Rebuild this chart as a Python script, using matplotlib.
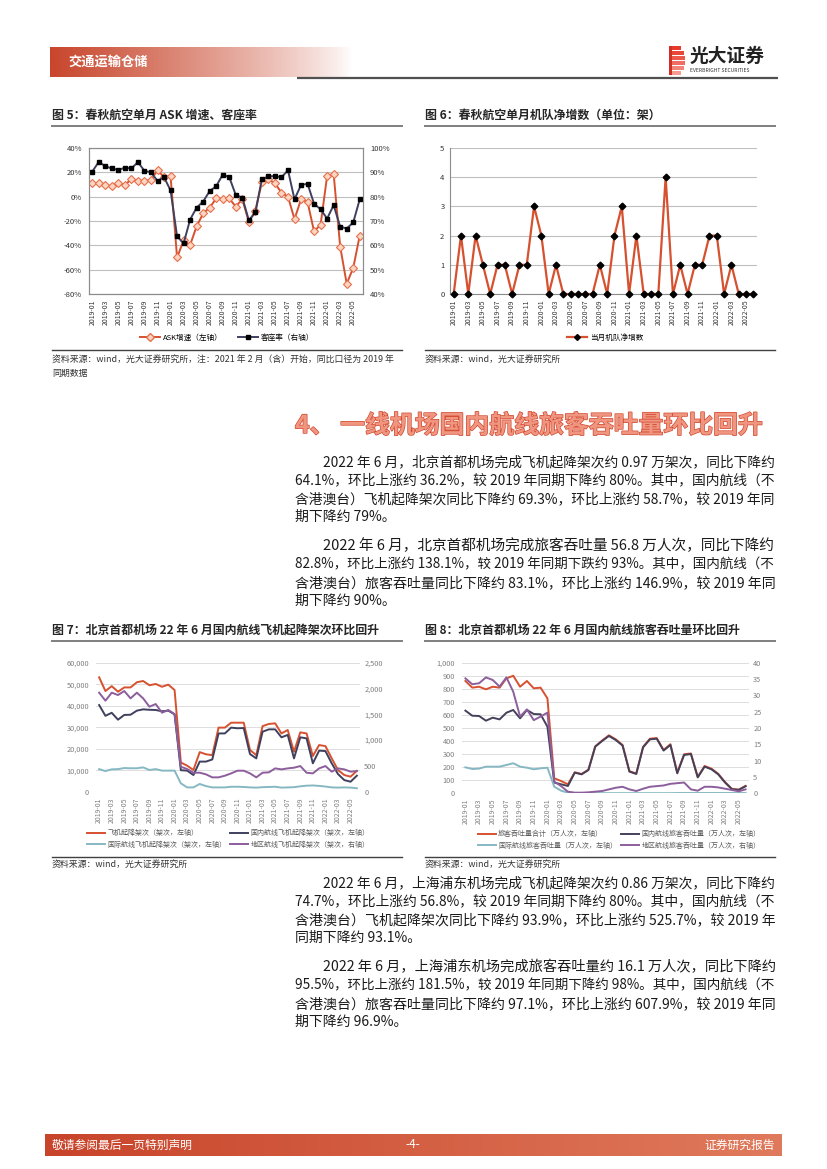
import matplotlib
matplotlib.use('Agg')
import matplotlib.pyplot as plt
import numpy as np
from matplotlib.lines import Line2D
from matplotlib.patches import Rectangle
import matplotlib.patheffects as pe
import matplotlib.colors as mcolors

plt.rcParams['font.family'] = ['Noto Sans CJK SC', 'DejaVu Sans']
plt.rcParams['axes.unicode_minus'] = False

W, H = 827, 1169

# ---------------- data ----------------
months = [f'{y}-{m:02d}' for y in (2019, 2020, 2021, 2022) for m in range(1, 13)][:42]

ask_growth = [11.3, 11.0, 9.7, 8.5, 11.3, 9.7, 14.3, 13.2, 13.0, 13.5,
              21.8, 16.0, 17.0, -50.0, -36.0, -39.7, -24.3, -13.8, -9.0, -1.4,
              -2.0, -1.5, -8.2, -2.0, -20.8, -11.7, 12.0, 14.2, 11.0, 3.3,
              0.0, -18.5, -2.2, -4.4, -28.6, -23.0, 17.0, 18.8, -41.0, -71.5,
              -58.6, -32.0]
load_factor = [90.3, 94.3, 92.5, 91.6, 91.0, 91.9, 91.6, 94.2, 90.6, 90.0,
               86.5, 88.0, 82.6, 63.7, 60.8, 70.6, 75.5, 78.0, 82.3, 84.3,
               89.1, 88.0, 80.7, 79.6, 70.3, 73.5, 87.2, 88.3, 88.5, 87.9,
               90.9, 78.9, 84.8, 85.3, 77.1, 74.8, 71.0, 76.5, 67.7, 66.9,
               69.4, 78.9]
fleet_add = [0, 2, 0, 2, 1, 0, 1, 1, 0, 1,
             1, 3, 2, 0, 1, 0, 0, 0, 0, 0,
             1, 0, 2, 3, 0, 2, 0, 0, 0, 4,
             0, 1, 0, 1, 1, 2, 2, 0, 1, 0,
             0, 0]

pek_flights_total = [53200, 46800, 49100, 46500, 48500, 48500, 50900, 51500, 49500, 50100,
                     48800, 49800, 47300, 13600, 12100, 10100, 18400, 17400, 17000, 29800,
                     29800, 32100, 32100, 32100, 19400, 17000, 30500, 31500, 31800, 27100,
                     28700, 18600, 27600, 27100, 16600, 21700, 21200, 15500, 10100, 7750,
                     7000, 9700]
pek_flights_dom = [40300, 35300, 36700, 33500, 35700, 35800, 37700, 38300, 38100, 38000,
                   37400, 37700, 36000, 10000, 9800, 7750, 14000, 14000, 15000, 27100,
                   27100, 29800, 29500, 29600, 17500, 15500, 27900, 29000, 29000, 25300,
                   26400, 15500, 25300, 24800, 13200, 19100, 18900, 13200, 8200, 5400,
                   4650, 7450]
pek_flights_intl = [10500, 9600, 10400, 10500, 11000, 10900, 10900, 11300, 10100, 10500,
                    9800, 9800, 9800, 3900, 2000, 2000, 3600, 2600, 2000, 2000,
                    2000, 2300, 2300, 2200, 2000, 1900, 2100, 2200, 2300, 1900,
                    2000, 2100, 2500, 2800, 2900, 2700, 2400, 2000, 1900, 2000,
                    1900, 1600]
pek_flights_reg = [1919, 1764, 1919, 1873, 1951, 1809, 1919, 1809, 1647, 1699,
                   1531, 1583, 1505, 484, 439, 368, 368, 336, 278, 278,
                   310, 355, 407, 407, 355, 278, 368, 375, 452, 433,
                   452, 465, 497, 368, 355, 452, 497, 388, 452, 433,
                   388, 400]

pek_pax_total = [860, 809, 816, 796, 816, 809, 880, 900, 816, 860,
                 804, 809, 727, 115, 94, 69, 161, 148, 181, 360,
                 404, 444, 413, 370, 170, 151, 356, 418, 423, 332,
                 376, 159, 299, 305, 125, 209, 189, 149, 86, 34,
                 28, 57]
pek_pax_dom = [633, 594, 592, 556, 579, 566, 617, 638, 574, 638,
               607, 605, 510, 82, 69, 56, 158, 145, 178, 357,
               400, 439, 408, 365, 166, 148, 352, 413, 418, 327,
               370, 153, 293, 301, 122, 204, 184, 145, 82, 31,
               26, 54]
pek_pax_intl = [199, 186, 189, 204, 204, 204, 217, 230, 204, 196,
                184, 191, 196, 51, 20, 5, 2, 1, 1, 1,
                1, 1, 1, 1, 1, 1, 1, 1, 1, 1,
                1, 2, 2, 2, 2, 2, 2, 2, 2, 2,
                2, 2]
pek_pax_reg = [35.2, 33.4, 33.7, 35.5, 34.7, 32.7, 35.5, 31.1, 23.5, 25.7,
               22.4, 23.5, 24.7, 3.6, 2.2, 0.5, 0.2, 0.2, 0.3, 0.5,
               0.7, 1.2, 1.7, 2.0, 1.2, 0.7, 1.4, 2.0, 2.2, 2.4,
               2.9, 3.1, 3.3, 1.2, 0.8, 2.0, 2.0, 1.8, 1.4, 1.0,
               0.6, 1.2]

# ---------------- text ----------------
header_title = '交通运输仓储'
fig5_title = '图 5：春秋航空单月 ASK 增速、客座率'
fig6_title = '图 6：春秋航空单月机队净增数（单位：架）'
fig7_title = '图 7：北京首都机场 22 年 6 月国内航线飞机起降架次环比回升'
fig8_title = '图 8：北京首都机场 22 年 6 月国内航线旅客吞吐量环比回升'
src5 = ['资料来源：wind，光大证券研究所，注：2021 年 2 月（含）开始，同比口径为 2019 年', '同期数据']
src = '资料来源：wind，光大证券研究所'
section_title = '4、 一线机场国内航线旅客吞吐量环比回升'
para1 = ['2022 年 6 月，北京首都机场完成飞机起降架次约 0.97 万架次，同比下降约',
         '64.1%，环比上涨约 36.2%，较 2019 年同期下降约 80%。其中，国内航线（不',
         '含港澳台）飞机起降架次同比下降约 69.3%，环比上涨约 58.7%，较 2019 年同',
         '期下降约 79%。']
para2 = ['2022 年 6 月，北京首都机场完成旅客吞吐量 56.8 万人次，同比下降约',
         '82.8%，环比上涨约 138.1%，较 2019 年同期下跌约 93%。其中，国内航线（不',
         '含港澳台）旅客吞吐量同比下降约 83.1%，环比上涨约 146.9%，较 2019 年同',
         '期下降约 90%。']
para3 = ['2022 年 6 月，上海浦东机场完成飞机起降架次约 0.86 万架次，同比下降约',
         '74.7%，环比上涨约 56.8%，较 2019 年同期下降约 80%。其中，国内航线（不',
         '含港澳台）飞机起降架次同比下降约 93.9%，环比上涨约 525.7%，较 2019 年',
         '同期下降约 93.1%。']
para4 = ['2022 年 6 月，上海浦东机场完成旅客吞吐量约 16.1 万人次，同比下降约',
         '95.5%，环比上涨约 181.5%，较 2019 年同期下降约 98%。其中，国内航线（不',
         '含港澳台）旅客吞吐量同比下降约 97.1%，环比上涨约 607.9%，较 2019 年同',
         '期下降约 96.9%。']

ORANGE = '#D6512F'
NAVY = '#3F405E'
TEAL = '#86B8C3'
PURPLE = '#8C5E9C'
DARK = '#45405A'

fig = plt.figure(figsize=(W / 100, H / 100), dpi=100)
renderer = fig.canvas.get_renderer()
bg = fig.add_axes([0, 0, 1, 1], zorder=-10)
bg.axis('off')


def add_ax(l, t, r, b):
    return fig.add_axes([l / W, 1 - b / H, (r - l) / W, (b - t) / H])


# header gradient band
grad = np.zeros((1, 300, 4))
c0 = mcolors.to_rgb('#C8452B')
grad[..., 0], grad[..., 1], grad[..., 2] = c0
grad[..., 3] = np.linspace(1, 0, 300) ** 0.8
bg.imshow(grad, extent=(50, 352, 77, 47), aspect='auto', interpolation='bilinear')
# footer band
fgrad = np.zeros((1, 400, 3))
ca = np.array(mcolors.to_rgb('#C8442A'))
cb = np.array(mcolors.to_rgb('#E07A5C'))
t = np.linspace(0, 1, 400)[:, None]
fgrad[0] = ca * (1 - t) + cb * t
bg.imshow(fgrad, extent=(45, 782, 1156, 1134), aspect='auto', interpolation='bilinear')
bg.set_xlim(0, W)
bg.set_ylim(H, 0)

bg.plot([297, 778], [77.5, 77.5], color='#505050', lw=1.6, solid_capstyle='butt')
bg.text(68, 62, header_title, color='white', fontsize=9.5, fontweight='bold', va='center')

# logo
logo_cols = ['#E53A2C', '#E8473A', '#EC5A4C', '#EF6E62', '#F2857A', '#F59C93']
for i, c in enumerate(logo_cols):
    wdt = [12, 15, 16, 16, 15, 12][i]
    bg.add_patch(Rectangle((669, 46 + i * 5), wdt, 3.6, color=c, lw=0))
bg.add_patch(Rectangle((669, 46), 3, 29, color='#D62E22', lw=0))
bg.text(690, 56, '光大证券', fontsize=13.5, fontweight='bold', va='center', color='#222222')
bg.text(690, 70, 'EVERBRIGHT SECURITIES', fontsize=3.6, va='center', color='#333333')

# footer text
bg.text(52, 1145, '敬请参阅最后一页特别声明', color='white', fontsize=8.5, va='center')
bg.text(413, 1145, '-4-', color='white', fontsize=8.5, va='center', ha='center')
bg.text(775, 1145, '证券研究报告', color='white', fontsize=8.5, va='center', ha='right')

# chart titles and rules
for (x0, x1, y, ttl) in [(52, 402, 115, fig5_title), (425, 775, 115, fig6_title),
                         (52, 402, 630, fig7_title), (425, 775, 630, fig8_title)]:
    bg.text(x0, y, ttl, fontsize=8.6, fontweight='bold', va='center', color='#262626')
    bg.plot([x0, x1], [126 if y < 200 else 641] * 2, color='#7F7F7F', lw=1.4)

# source lines
for (x0, x1, y) in [(52, 402, 350), (425, 775, 350), (52, 402, 857), (425, 775, 857)]:
    bg.plot([x0, x1], [y, y], color='#404040', lw=1.0)
bg.text(52, 360, src5[0], fontsize=6.4, va='center', color='#333333')
bg.text(52, 373, src5[1], fontsize=6.4, va='center', color='#333333')
bg.text(425, 360, src, fontsize=6.4, va='center', color='#333333')
bg.text(52, 865, src, fontsize=6.4, va='center', color='#333333')
bg.text(425, 865, src, fontsize=6.4, va='center', color='#333333')

# section heading
bg.text(295, 426, section_title, fontsize=17.9, fontweight='bold', va='center',
        color='#F09580', path_effects=[pe.withStroke(linewidth=1.0, foreground='#D24A30')])

# body paragraphs (each full line fitted to the right margin)
BODY_FS = 10.0
RIGHT = 775


def draw_para(lines, y0, step=18.4):
    for i, ln in enumerate(lines):
        xl = 323 if i == 0 else 295
        txt = bg.text(xl, y0 + i * step, ln, fontsize=BODY_FS, va='center', color='#1A1A1A')
        if i < len(lines) - 1:
            w = txt.get_window_extent(renderer=renderer).width
            scale = (RIGHT - xl) / w
            scale = min(max(scale, 0.94), 1.06)
            txt.set_fontsize(BODY_FS * scale)


draw_para(para1, 462)
draw_para(para2, 546)
draw_para(para3, 883)
draw_para(para4, 967)

x = np.arange(len(months))
xt = x[::2]
xtl = months[::2]

# ---------------- chart 5 ----------------
ax5 = add_ax(89, 148, 363, 294)
ax5.set_xlim(-0.5, 41.5)
ax5.set_ylim(-80, 40)
ax5.set_yticks(range(-80, 41, 20))
ax5.set_yticklabels([f'{v}%' for v in range(-80, 41, 20)])
ax5.grid(axis='y', color='#BFBFBF', lw=0.8)
ax5.set_axisbelow(True)
ax5.plot(x, ask_growth, color=ORANGE, lw=1.4, marker='D', ms=4.3,
         mfc='#FBD5C0', mec='#E66F4C', mew=0.8, zorder=3)
ax5.set_xticks(xt)
ax5.set_xticklabels(xtl, rotation=90, fontsize=5)
ax5.tick_params(axis='both', length=0, labelsize=5.5, colors='#333333', pad=5)
ax5.tick_params(axis='x', labelsize=5, pad=4)
ax5b = ax5.twinx()
ax5b.set_ylim(40, 100)
ax5b.set_yticks(range(40, 101, 10))
ax5b.set_yticklabels([f'{v}%' for v in range(40, 101, 10)])
ax5b.plot(x, load_factor, color=NAVY, lw=1.4, marker='s', ms=2.6, mfc='black', mec='black')
ax5b.tick_params(axis='y', length=0, labelsize=5.5, colors='#333333', pad=5)
for a in (ax5, ax5b):
    for s in a.spines.values():
        s.set_color('#8C8C8C')
        s.set_linewidth(0.8)
h5 = [Line2D([], [], color=ORANGE, lw=1.4, marker='D', ms=4, mfc='#FBD5C0', mec='#E66F4C'),
      Line2D([], [], color=NAVY, lw=1.4, marker='s', ms=2.6, mfc='black', mec='black')]
ax5.legend(h5, ['ASK增速（左轴）', '客座率（右轴）'], loc='center', ncol=2,
           bbox_to_anchor=(227 / W, 1 - 338 / H), bbox_transform=fig.transFigure,
           frameon=False, fontsize=5.5, handlelength=2.6, handletextpad=0.4, columnspacing=2.0,
           borderpad=0, borderaxespad=0)

# ---------------- chart 6 ----------------
ax6 = add_ax(450, 148, 757, 294)
ax6.set_xlim(-0.5, 41.5)
ax6.set_ylim(0, 5)
ax6.set_yticks(range(0, 6))
ax6.grid(axis='y', color='#BFBFBF', lw=0.8)
ax6.set_axisbelow(True)
ax6.plot(x, fleet_add, color=ORANGE, lw=1.6, marker='D', ms=3.4, mfc='black', mec='black',
         clip_on=False, zorder=3)
ax6.set_xticks(xt)
ax6.set_xticklabels(xtl, rotation=90)
ax6.tick_params(axis='both', length=0, labelsize=5.5, colors='#333333', pad=4)
ax6.tick_params(axis='x', labelsize=5, pad=4)
for k in ('top', 'right'):
    ax6.spines[k].set_visible(False)
for k in ('left', 'bottom'):
    ax6.spines[k].set_color('#8C8C8C')
    ax6.spines[k].set_linewidth(0.8)
h6 = [Line2D([], [], color=ORANGE, lw=1.6, marker='D', ms=3, mfc='black', mec='black')]
ax6.legend(h6, ['当月机队净增数'], loc='center',
           bbox_to_anchor=(605 / W, 1 - 338 / H), bbox_transform=fig.transFigure,
           frameon=False, fontsize=5.5, handlelength=2.6, handletextpad=0.4,
           borderpad=0, borderaxespad=0)


def style_clean(a, twin):
    for s in a.spines.values():
        s.set_visible(False)
    for s in twin.spines.values():
        s.set_visible(False)
    a.tick_params(axis='both', length=0, labelsize=5.3, colors='#7F7F7F', pad=5)
    twin.tick_params(axis='y', length=0, labelsize=5.3, colors='#7F7F7F', pad=3)
    a.grid(axis='y', color='#DDDDDD', lw=0.7)
    a.set_axisbelow(True)


# ---------------- chart 7 ----------------
ax7 = add_ax(96, 662.7, 360, 791.7)
ax7.set_xlim(-0.5, 41.5)
ax7.set_ylim(0, 60000)
ax7.set_yticks(range(0, 60001, 10000))
ax7.set_yticklabels([f'{v:,}' for v in range(0, 60001, 10000)])
ax7.plot(x, pek_flights_total, color=ORANGE, lw=1.4)
ax7.plot(x, pek_flights_dom, color=NAVY, lw=1.4)
ax7.plot(x, pek_flights_intl, color=TEAL, lw=1.4)
ax7b = ax7.twinx()
ax7b.set_ylim(0, 2500)
ax7b.set_yticks(range(0, 2501, 500))
ax7b.set_yticklabels([f'{v:,}' for v in range(0, 2501, 500)])
ax7b.plot(x, pek_flights_reg, color=PURPLE, lw=1.4)
ax7.set_xticks(xt)
ax7.set_xticklabels(xtl, rotation=90)
style_clean(ax7, ax7b)
ax7.tick_params(axis='x', labelsize=5, pad=4)
h7 = [Line2D([], [], color=ORANGE, lw=1.4), Line2D([], [], color=TEAL, lw=1.4),
      Line2D([], [], color=NAVY, lw=1.4), Line2D([], [], color=PURPLE, lw=1.4)]
ax7.legend(h7, ['飞机起降架次（架次，左轴）', '国际航线飞机起降架次（架次，左轴）',
                '国内航线飞机起降架次（架次，左轴）', '地区航线飞机起降架次（架次，右轴）'],
           loc='upper left', ncol=2, bbox_to_anchor=(87 / W, 1 - 829 / H),
           bbox_transform=fig.transFigure, frameon=False, fontsize=5, labelcolor='#595959',
           handlelength=2.6, handletextpad=0.3, columnspacing=0.6, labelspacing=0.55,
           borderpad=0, borderaxespad=0)

# ---------------- chart 8 ----------------
ax8 = add_ax(462, 662.7, 749, 793.3)
ax8.set_xlim(-0.5, 41.5)
ax8.set_ylim(0, 1000)
ax8.set_yticks(range(0, 1001, 100))
ax8.set_yticklabels([f'{v:,}' for v in range(0, 1001, 100)])
ax8.plot(x, pek_pax_total, color=ORANGE, lw=1.4)
ax8.plot(x, pek_pax_dom, color=DARK, lw=1.4)
ax8.plot(x, pek_pax_intl, color=TEAL, lw=1.4)
ax8b = ax8.twinx()
ax8b.set_ylim(0, 40)
ax8b.set_yticks(range(0, 41, 5))
ax8b.plot(x, pek_pax_reg, color=PURPLE, lw=1.4)
ax8.set_xticks(xt)
ax8.set_xticklabels(xtl, rotation=90)
style_clean(ax8, ax8b)
ax8.tick_params(axis='x', labelsize=5, pad=4)
h8 = [Line2D([], [], color=ORANGE, lw=1.4), Line2D([], [], color=TEAL, lw=1.4),
      Line2D([], [], color=DARK, lw=1.4), Line2D([], [], color=PURPLE, lw=1.4)]
ax8.legend(h8, ['旅客吞吐量合计（万人次，左轴）', '国际航线旅客吞吐量（万人次，左轴）',
                '国内航线旅客吞吐量（万人次，左轴）', '地区航线旅客吞吐量（万人次，右轴）'],
           loc='upper left', ncol=2, bbox_to_anchor=(478 / W, 1 - 830 / H),
           bbox_transform=fig.transFigure, frameon=False, fontsize=5, labelcolor='#595959',
           handlelength=2.6, handletextpad=0.3, columnspacing=0.6, labelspacing=0.55,
           borderpad=0, borderaxespad=0)

fig.savefig('out.png', dpi=100)
